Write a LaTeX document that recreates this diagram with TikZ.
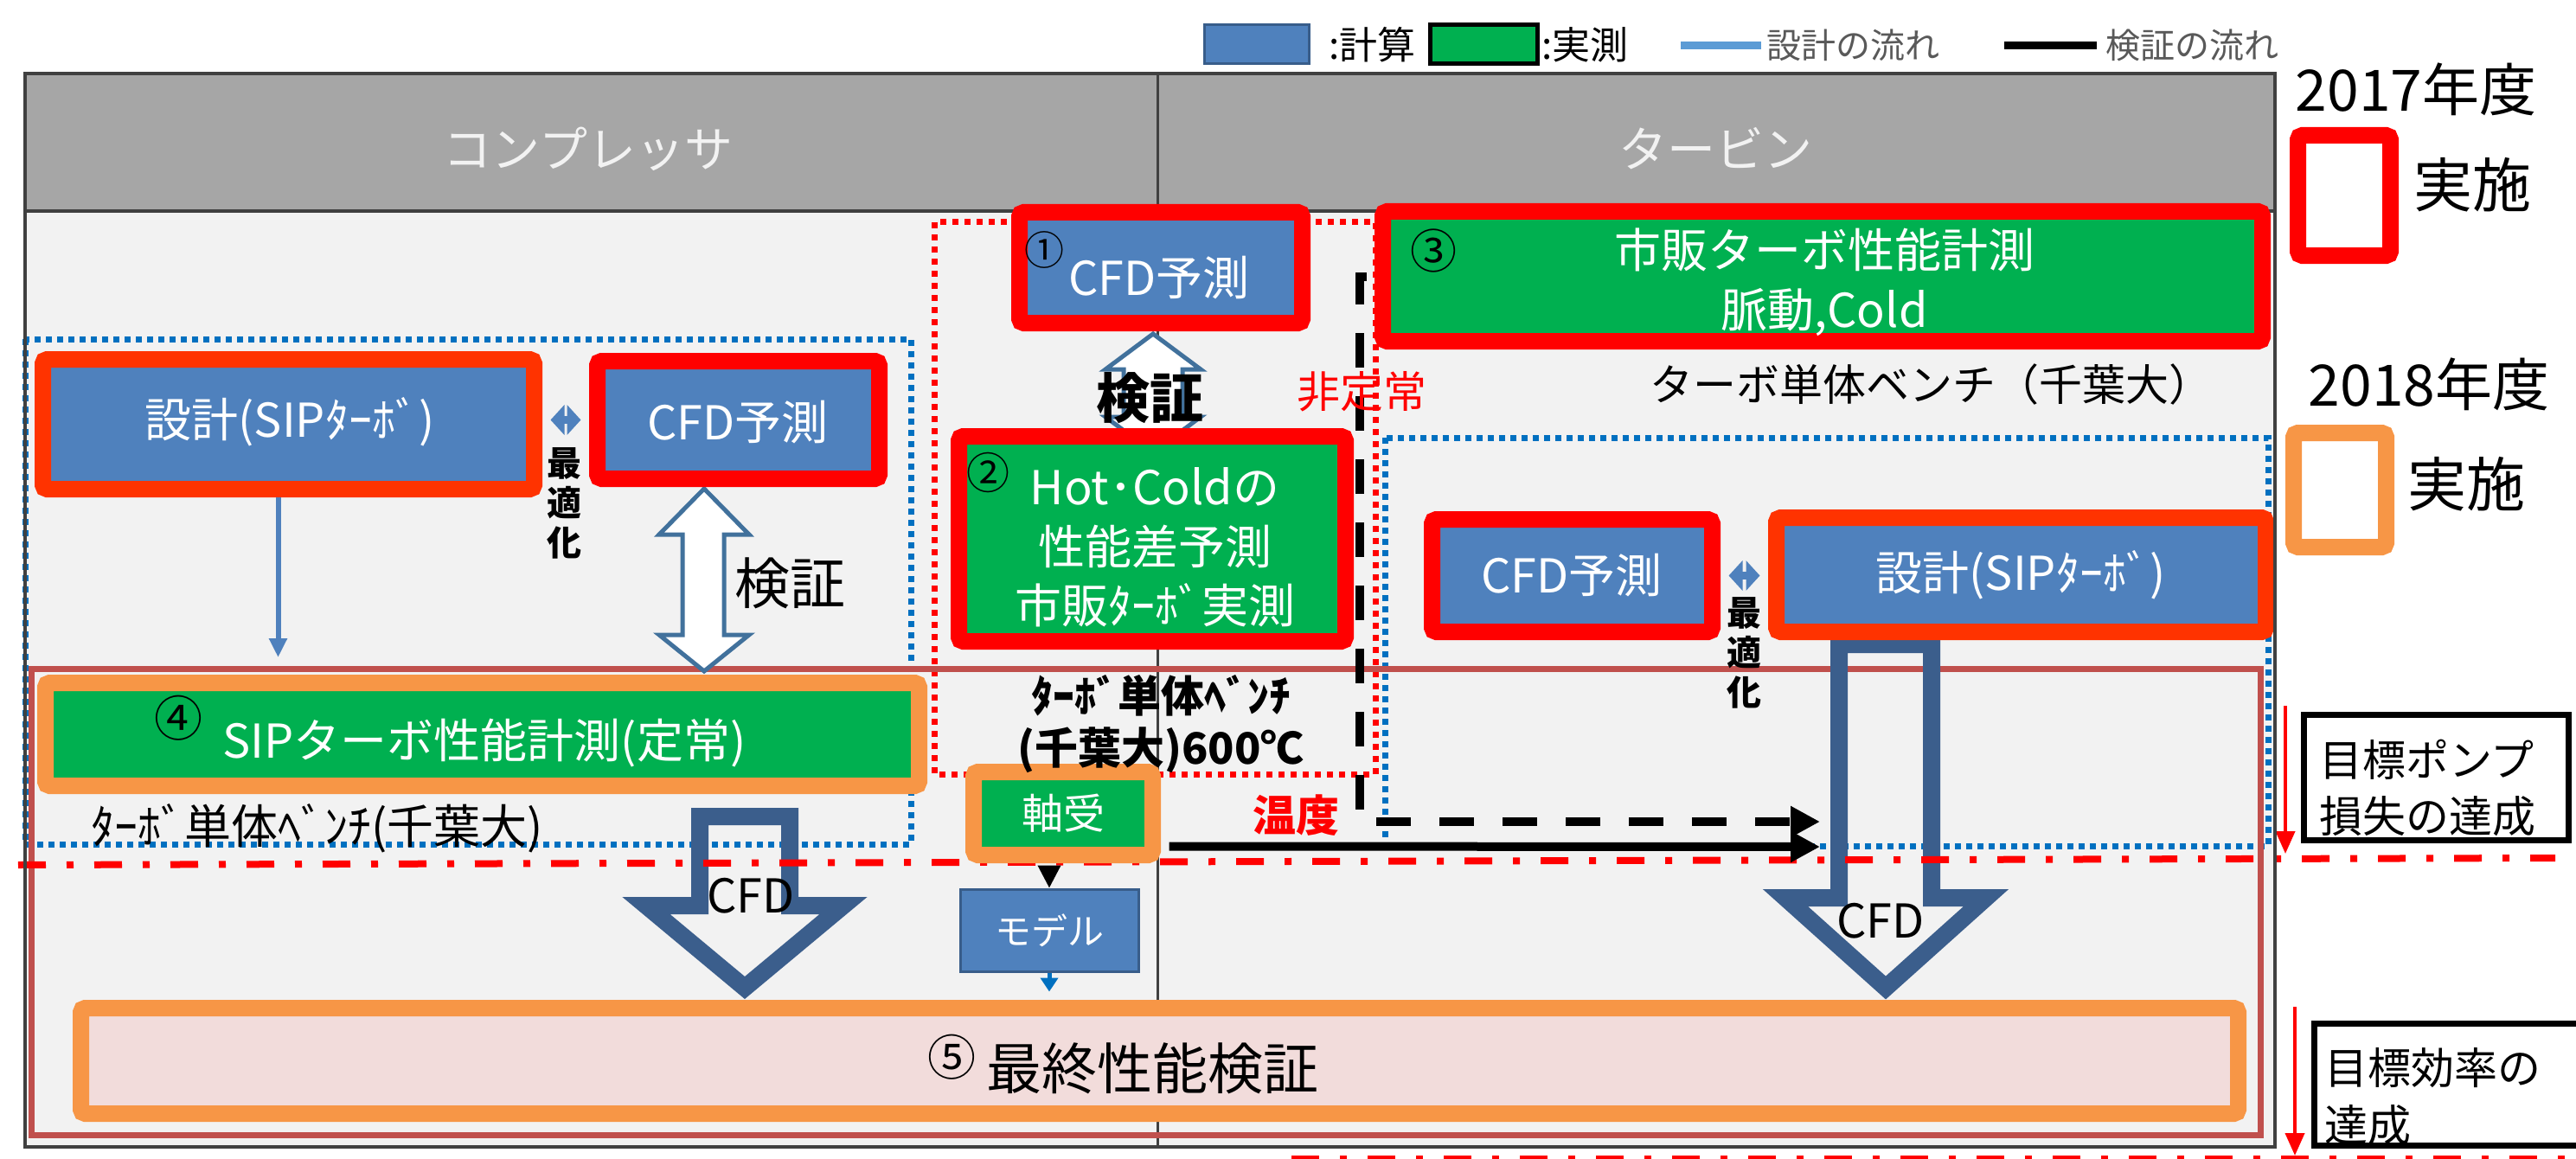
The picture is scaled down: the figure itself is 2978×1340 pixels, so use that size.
\documentclass[tikz,border=0pt]{standalone}
\usepackage{fontspec}
\setmainfont{Noto Sans CJK JP}
\usetikzlibrary{arrows.meta,calc}
\definecolor{cblue}{HTML}{4F81BD}
\definecolor{cbluedk}{HTML}{385D8A}
\definecolor{cgreen}{HTML}{00B050}
\definecolor{cred}{HTML}{FF0000}
\definecolor{corgred}{HTML}{FF3300}
\definecolor{corange}{HTML}{F79646}
\definecolor{cpink}{HTML}{F2DCDB}
\definecolor{cbody}{HTML}{F2F2F2}
\definecolor{chead}{HTML}{A6A6A6}
\definecolor{cframe}{HTML}{404040}
\definecolor{cbrown}{HTML}{C0504D}
\definecolor{cdot}{HTML}{0070C0}
\definecolor{clight}{HTML}{5B9BD5}
\definecolor{carrowdk}{HTML}{3B5E8C}
\definecolor{carrowol}{HTML}{41719C}
\definecolor{ctextgray}{HTML}{595959}
\newcommand{\fsz}[2]{\fontsize{#1pt}{#2pt}\selectfont}
\tikzset{
  box/.style={rounded corners=5pt, inner sep=0pt, line width=19pt, text=white, align=center},
  txt/.style={inner sep=0pt, align=center},
  dotblue/.style={draw=cdot, line width=7pt, dash pattern=on 7pt off 6pt},
  dotred/.style={draw=cred, line width=7pt, dash pattern=on 7pt off 7pt},
  hollowarrow/.style={draw=carrowol, line width=5pt, fill=white, line join=miter},
  cfdarrow/.style={draw=carrowdk, line width=20pt, line join=miter},
  thinblue/.style={draw=cblue, line width=6pt, -{Triangle[length=22pt,width=20pt]}},
  dblarrow/.style={draw=cblue, line width=9pt, {Triangle[length=16pt,width=34pt]}-{Triangle[length=16pt,width=34pt]}},
  blkdash/.style={draw=black, line width=10pt, dash pattern=on 40pt off 33pt, -{Triangle[length=34pt,width=34pt]}},
  blksolid/.style={draw=black, line width=10pt, -{Triangle[length=34pt,width=34pt]}},
  smallblk/.style={draw=black, line width=4pt, -{Triangle[length=26pt,width=26pt]}},
  smallblue/.style={draw=cdot, line width=5pt, -{Triangle[length=16pt,width=20pt]}},
  dashdot/.style={draw=cred, line width=8pt, dash pattern=on 32pt off 24pt on 8pt off 24pt},
  redarrow/.style={draw=cred, line width=4pt, -{Triangle[length=26pt,width=22pt]}},
  goalbox/.style={draw=black, line width=7pt, fill=white, inner sep=0pt},
}
\begin{document}
\begin{tikzpicture}[x=1pt,y=-1pt]
\useasboundingbox[fill=white] (0,0) rectangle (2978,1340);

% main frame
\fill[cbody] (29,85) rectangle (2630,1326);
\fill[chead] (29,85) rectangle (2630,244);
\draw[cframe, line width=4pt] (29,244) -- (2630,244);
\draw[cframe, line width=3pt] (1338,85) -- (1338,1326);

% dotted regions
\draw[dotblue] (29,392) rectangle (1053,976);
\draw[dotblue] (1601,506) rectangle (2622,978);
\draw[dotred] (1080,257) rectangle (1590,895);
\draw[cbrown, line width=7pt] (36,773) rectangle (2613,1312);

% legend
\node[draw=cbluedk, line width=3pt, fill=cblue, minimum width=121pt, minimum height=45pt, inner sep=0pt] (lgb) at (1452.5,51.5) {};
\node[txt, anchor=west, font=\fsz{44}{50}] (lgbt) at (1536,52) {:計算};
\node[draw=black, line width=5pt, fill=cgreen, minimum width=124pt, minimum height=45pt, inner sep=0pt] (lgg) at (1715,51.5) {};
\node[txt, anchor=west, font=\fsz{44}{50}] (lggt) at (1782,52) {:実測};
\coordinate (ll1) at (1943,53); \coordinate (ll2) at (2036,53);
\draw[clight, line width=9pt] (ll1) -- (ll2);
\node[txt, anchor=west, text=ctextgray, font=\fsz{40}{46}] (llt) at (2042,52) {設計の流れ};
\coordinate (lk1) at (2317,53); \coordinate (lk2) at (2424,53);
\draw[black, line width=9pt] (lk1) -- (lk2);
\node[txt, anchor=west, text=ctextgray, font=\fsz{40}{46}] (lkt) at (2434,52) {検証の流れ};

% headers
\node[txt, text=cbody, font=\fsz{56}{60}] (hcomp) at (680,172) {コンプレッサ};
\node[txt, text=cbody, font=\fsz{56}{60}] (hturb) at (1983,172) {タービン};

% year legend
\node[txt, font=\fsz{66}{70}] (y17) at (2793,103) {2017年度};
\node[box, draw=cred, fill=white, minimum width=107pt, minimum height=139pt] (sq17) at (2710,226) {};
\node[txt, font=\fsz{68}{72}] (y17b) at (2858,214) {実施};
\node[txt, font=\fsz{66}{70}] (y18) at (2808,444) {2018年度};
\node[box, draw=corange, fill=white, minimum width=107pt, minimum height=132pt] (sq18) at (2705,566.5) {};
\node[txt, font=\fsz{68}{72}] (y18b) at (2851,560) {実施};

% hollow verification arrows
\draw[hollowarrow] (814,565) -- (866,618) -- (837,618) -- (837,734) -- (866,734) -- (814,776) -- (762,734) -- (789,734) -- (789,618) -- (762,618) -- cycle;
\draw[hollowarrow] (1333,386) -- (1388,427) -- (1367,427) -- (1367,482) -- (1388,482) -- (1333,523) -- (1278,482) -- (1299,482) -- (1299,427) -- (1278,427) -- cycle;

% CFD arrows
\draw[cfdarrow] (809,944) -- (913,944) -- (913,1047) -- (975,1047) -- (861,1142) -- (747,1047) -- (809,1047) -- cycle;
\draw[cfdarrow] (2126,745) -- (2233,745) -- (2233,1038) -- (2296,1038) -- (2180,1142) -- (2064,1038) -- (2126,1038) -- cycle;

% dash-dot milestone lines
\coordinate (dd1) at (21,1000); \coordinate (dd2) at (2954,992);
\draw[dashdot] (dd1) -- (dd2);
\coordinate (dd3) at (1493,1340); \coordinate (dd4) at (2978,1340);
\draw[dashdot] (dd3) -- (dd4);

% boxes
\node[box, draw=cred, fill=cblue, minimum width=327pt, minimum height=128pt] (c1) at (1342,309.5) {};
\node[box, draw=corgred, fill=cblue, minimum width=568pt, minimum height=150pt] (dL) at (333.5,490.5) {};
\node[box, draw=cred, fill=cblue, minimum width=326pt, minimum height=136pt] (cL) at (853.5,485.5) {};
\node[box, draw=cred, fill=cgreen, minimum width=447pt, minimum height=237pt] (b2) at (1332,623) {};
\node[box, draw=cred, fill=cgreen, minimum width=1017pt, minimum height=150pt] (b3) at (2107,319.5) {};
\node[box, draw=cred, fill=cblue, minimum width=324pt, minimum height=130pt] (cR) at (1817.5,665.5) {};
\node[box, draw=corgred, fill=cblue, minimum width=566pt, minimum height=132pt] (dR) at (2336.5,664.5) {};
\node[box, draw=corange, fill=cgreen, minimum width=1010pt, minimum height=119pt] (b4) at (557.5,849) {};
\node[box, draw=corange, fill=cgreen, minimum width=207pt, minimum height=96pt, font=\fsz{48}{52}] (bj) at (1229,940.5) {軸受};
\node[draw=cbluedk, line width=3pt, fill=cblue, text=white, inner sep=0pt, minimum width=206pt, minimum height=95pt, font=\fsz{42}{46}] (bm) at (1213,1075.5) {モデル};
\node[box, draw=corange, fill=cpink, minimum width=2494pt, minimum height=122pt] (b5) at (1340.5,1226.5) {};

% connectors between boxes
\draw[thinblue, shorten >=20pt] ([xshift=-12pt]dL.south) -- ([xshift=-12pt]dL.south |- b4.north);
\draw[dblarrow, shorten <=9.5pt, shorten >=9.5pt] (dL.east |- cL.west) -- (cL.west);
\draw[dblarrow, shorten <=9.5pt, shorten >=9.5pt] (cR.east) -- (cR.east -| dR.west);
\coordinate (dashcorner) at (1572,950);
\coordinate (dashend) at (2104,950);
\draw[blkdash, shorten <=9.5pt] (b3.west) -| (dashcorner) -- (dashend);
\coordinate (solidend) at (2104,979);
\draw[blksolid, shorten <=9.5pt] ([yshift=-38pt]bj.east) -- (solidend);
\draw[smallblk, shorten <=9.5pt] (bm.north |- bj.south) -- (bm.north);
\draw[smallblue, shorten >=9.5pt] (bm.south) -- (bm.south |- b5.north);

% box texts
\node[txt, font=\fsz{46}{50}] (n1) at (1207,289) {①};
\node[txt, text=white, font=\fsz{54}{60}] (t1) at (1340,321) {CFD予測};
\node[txt, text=white, font=\fsz{54}{60}] (tdL) at (335,488) {設計(SIPﾀｰﾎﾞ)};
\node[txt, text=white, font=\fsz{54}{60}] (tcL) at (853,488) {CFD予測};
\node[txt, font=\fsz{50}{54}] (n2) at (1142,546) {②};
\node[txt, text=white, font=\fsz{54}{68.5}] (t2) at (1335,633) {Hot･Coldの\\性能差予測\\市販ﾀｰﾎﾞ実測};
\node[txt, font=\fsz{54}{58}] (n3) at (1657,290) {③};
\node[txt, text=white, font=\fsz{54}{69}] (t3) at (2109,326) {市販ターボ性能計測\\脈動,Cold};
\node[txt, text=white, font=\fsz{54}{60}] (tcR) at (1817,665) {CFD予測};
\node[txt, text=white, font=\fsz{54}{60}] (tdR) at (2336,665) {設計(SIPﾀｰﾎﾞ)};
\node[txt, font=\fsz{56}{60}] (n4) at (206,830) {④};
\node[txt, text=white, font=\fsz{54}{60}] (t4) at (560,859) {SIPターボ性能計測(定常)};
\node[txt, font=\fsz{56}{60}] (n5) at (1100,1222) {⑤};
\node[txt, anchor=west, font=\fsz{64}{70}] (t5) at (1140,1235) {最終性能検証};

% free labels
\node[txt, anchor=west, font=\fsz{54}{60}] (benchL) at (105,958) {ﾀｰﾎﾞ単体ﾍﾞﾝﾁ(千葉大)};
\node[txt, font=\fsz{50}{56}] (benchR) at (2232,444) {ターボ単体ベンチ（千葉大）};
\node[txt, font=\fsz{50}{60}\bfseries] (benchM) at (1342,837) {ﾀｰﾎﾞ単体ﾍﾞﾝﾁ\\(千葉大)600℃};
\node[txt, text=cred, font=\fsz{50}{56}] (hiteijo) at (1574,453) {非定常};
\node[txt, text=cred, font=\fsz{50}{56}\bfseries] (ondo) at (1498,943) {温度};
\node[txt, font=\fsz{64}{70}] (kenL) at (913,674) {検証};
\node[txt, font=\fsz{62}{68}\bfseries] (kenM) at (1329,460) {検証};
\node[txt, font=\fsz{40}{46}\bfseries] (optL) at (652,582) {最\\適\\化};
\node[txt, font=\fsz{40}{46}\bfseries] (optR) at (2016,755) {最\\適\\化};
\node[txt, font=\fsz{54}{60}] (cfdL) at (868,1036) {CFD};
\node[txt, font=\fsz{54}{60}] (cfdR) at (2174,1065) {CFD};

% goal boxes
\coordinate (ra1s) at (2642,816); \coordinate (ra1e) at (2642,987);
\draw[redarrow] (ra1s) -- (ra1e);
\coordinate (ra2s) at (2653,1164); \coordinate (ra2e) at (2653,1336);
\draw[redarrow] (ra2s) -- (ra2e);
\node[goalbox, minimum width=306pt, minimum height=145pt] (g1) at (2816.5,899) {};
\node[txt, anchor=west, font=\fsz{50}{56}] (g1a) at (2681,878) {目標ポンプ};
\node[txt, anchor=west, font=\fsz{50}{56}] (g1b) at (2681,944) {損失の達成};
\node[goalbox, minimum width=311pt, minimum height=141pt] (g2) at (2831,1254) {};
\node[txt, anchor=west, font=\fsz{50}{56}] (g2a) at (2687,1235) {目標効率の};
\node[txt, anchor=west, font=\fsz{50}{56}] (g2b) at (2687,1301) {達成};

% frame border on top
\draw[cframe, line width=4pt] (29,85) rectangle (2630,1326);
\end{tikzpicture}
\end{document}
